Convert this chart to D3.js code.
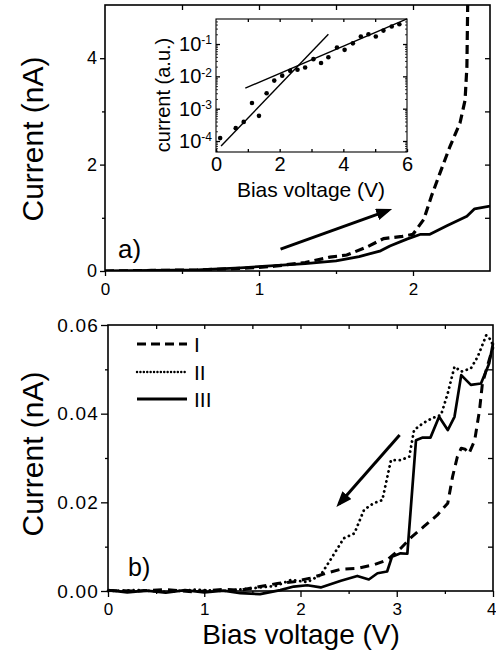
<!DOCTYPE html>
<html>
<head>
<meta charset="utf-8">
<script src="https://cdn.jsdelivr.net/npm/d3@7"></script>
<style>
  body { margin: 0; background: #fff; }
  svg { display: block; font-family: "Liberation Sans", Arial, sans-serif; }
</style>
</head>
<body>
<div id="chart"></div>
<script>
// ---- panel a: forward sweep (nA) ----
const aDashV = [0, 0.3, 0.6, 0.9, 1.1, 1.3, 1.46, 1.57, 1.7, 1.81, 1.93, 2.0, 2.07, 2.12, 2.175, 2.24, 2.305, 2.338, 2.35, 2.356];
const aDashI = [0, 0.01, 0.02, 0.05, 0.09, 0.16, 0.26, 0.30, 0.45, 0.61, 0.65, 0.69, 0.97, 1.41, 1.84, 2.34, 2.78, 3.21, 3.84, 5.2];
const aSolidV = [0, 0.3, 0.6, 0.88, 1.1, 1.3, 1.5, 1.65, 1.79, 1.85, 1.96, 2.05, 2.11, 2.22, 2.35, 2.40, 2.5];
const aSolidI = [0, 0.01, 0.02, 0.06, 0.1, 0.14, 0.19, 0.27, 0.38, 0.47, 0.6, 0.69, 0.69, 0.85, 1.03, 1.17, 1.22];
const aArrow = [[1.14, 0.41], [1.84, 1.14]];

// ---- inset: log current vs bias ----
const insetV = [0.13, 0.62, 0.87, 1.13, 1.35, 1.59, 1.83, 2.08, 2.33, 2.56, 2.80, 3.06, 3.30, 3.53, 3.80, 4.04, 4.30, 4.55, 4.79, 5.02, 5.26, 5.52, 5.76];
const insetI = [1.23e-4, 2.5e-4, 3.9e-4, 1.5e-3, 6.0e-4, 3.0e-3, 7.4e-3, 1.05e-2, 1.48e-2, 1.6e-2, 1.87e-2, 3.4e-2, 2.6e-2, 3.9e-2, 7.8e-2, 6.6e-2, 1.05e-1, 1.7e-1, 2.0e-1, 1.7e-1, 2.6e-1, 3.5e-1, 4.1e-1];
const fitSteep = [[0.16, 7e-5], [3.53, 0.2]];
const fitShallow = [[0.92, 4.3e-3], [6.0, 0.6]];

// ---- panel b: backward sweeps I, II, III (nA) ----
const bIV = [0, 0.3, 0.6, 0.9, 1.2, 1.375, 1.58, 1.76, 1.93, 2.10, 2.28, 2.42, 2.59, 2.76, 2.90, 3.04, 3.15, 3.28, 3.42, 3.53, 3.58, 3.63, 3.67, 3.71, 3.75, 3.81, 3.86, 3.89, 3.94, 4.0];
const bII = [0.0001, 0, 0.0003, -0.0002, 0.0004, 0.0002, 0.001, 0.0017, 0.0021, 0.0029, 0.0041, 0.0049, 0.0051, 0.0059, 0.007, 0.0096, 0.0121, 0.0145, 0.0171, 0.0198, 0.0258, 0.0303, 0.0322, 0.032, 0.031, 0.034, 0.0408, 0.0468, 0.0506, 0.055];
const bIIV = [0, 0.3, 0.6, 0.9, 1.2, 1.5, 1.75, 1.90, 2.07, 2.21, 2.31, 2.45, 2.56, 2.66, 2.76, 2.85, 2.94, 3.04, 3.13, 3.18, 3.27, 3.37, 3.46, 3.53, 3.60, 3.67, 3.77, 3.84, 3.93, 3.98, 4.0];
const bIII = [0, 0.0002, -0.0002, 0.0003, 0, 0.0006, 0.0012, 0.0025, 0.002, 0.0036, 0.007, 0.0119, 0.013, 0.0183, 0.0198, 0.0205, 0.0295, 0.0295, 0.0303, 0.0363, 0.0378, 0.039, 0.0397, 0.0446, 0.0506, 0.0495, 0.0502, 0.0528, 0.0577, 0.0566, 0.0552];
const bIIIV = [0, 0.2, 0.4, 0.6, 0.8, 1.0, 1.2, 1.375, 1.58, 1.79, 1.93, 2.07, 2.21, 2.42, 2.59, 2.71, 2.80, 2.90, 2.95, 3.04, 3.11, 3.20, 3.27, 3.35, 3.44, 3.53, 3.60, 3.67, 3.77, 3.875, 3.96, 4.0];
const bIIII = [0.0002, -0.0003, 0.0001, -0.0004, 0.0002, -0.0003, 0.0001, -0.0005, -0.0007, 0.0002, 0.001, 0.0013, 0.0008, 0.0023, 0.0034, 0.0026, 0.004, 0.0044, 0.0077, 0.0085, 0.0084, 0.034, 0.0346, 0.0346, 0.0393, 0.0363, 0.0393, 0.0487, 0.0465, 0.0468, 0.0513, 0.0559];
const bArrow = [[3.03, 0.0352], [2.40, 0.0196]];
const legendNames = ["I", "II", "III"];

const zip = (xs, ys) => xs.map((v, i) => [v, ys[i]]);
const FONT = '"Liberation Sans", Arial, sans-serif';

const width = 496, height = 654;
const svg = d3.select("#chart").append("svg")
  .attr("width", width).attr("height", height)
  .attr("viewBox", `0 0 ${width} ${height}`);

const defs = svg.append("defs");
defs.append("marker")
  .attr("id", "head")
  .attr("markerUnits", "userSpaceOnUse")
  .attr("viewBox", "0 0 16 12")
  .attr("refX", 12).attr("refY", 6)
  .attr("markerWidth", 16).attr("markerHeight", 12)
  .attr("orient", "auto")
  .append("path").attr("d", "M0,0 L16,6 L0,12 Z").attr("fill", "#000");

function styleAxis(g, fs) {
  g.attr("font-family", FONT).attr("font-size", fs);
  g.select(".domain").remove();
  g.selectAll("line").attr("stroke", "#000").attr("stroke-width", 1.3);
  g.selectAll("text").attr("fill", "#000");
}

// ================= panel a =================
const xA = d3.scaleLinear().domain([0, 2.5]).range([105, 490]);
const yA = d3.scaleLinear().domain([0, 5]).range([271, 5]);

defs.append("clipPath").attr("id", "clipA").append("rect")
  .attr("x", 105).attr("y", 5).attr("width", 385).attr("height", 266);

const gA = svg.append("g");

gA.append("g").attr("transform", `translate(0,271)`)
  .call(d3.axisBottom(xA).tickValues([0, 1, 2]).tickFormat(d3.format("d")).tickSize(5).tickPadding(7))
  .call(g => styleAxis(g, 17));
gA.append("g").attr("transform", `translate(0,271)`)
  .call(d3.axisBottom(xA).tickValues([0.5, 1.5]).tickFormat("").tickSize(3))
  .call(g => styleAxis(g, 17));
gA.append("g").attr("transform", `translate(0,5)`)
  .call(d3.axisTop(xA).tickValues([0.5, 1, 1.5, 2]).tickFormat("").tickSize(-5))
  .call(g => styleAxis(g, 17));
gA.append("g").attr("transform", `translate(105,0)`)
  .call(d3.axisLeft(yA).tickValues([0, 2, 4]).tickFormat(d3.format("d")).tickSize(5).tickPadding(3))
  .call(g => styleAxis(g, 18));
gA.append("g").attr("transform", `translate(105,0)`)
  .call(d3.axisLeft(yA).tickValues([1, 3]).tickFormat("").tickSize(3))
  .call(g => styleAxis(g, 18));
gA.append("g").attr("transform", `translate(490,0)`)
  .call(d3.axisRight(yA).tickValues([1, 2, 3, 4]).tickFormat("").tickSize(-5))
  .call(g => styleAxis(g, 18));

gA.append("rect").attr("x", 105).attr("y", 5).attr("width", 385).attr("height", 266)
  .attr("fill", "none").attr("stroke", "#000").attr("stroke-width", 1.6);

const lineA = d3.line().x(d => xA(d[0])).y(d => yA(d[1]));
const curvesA = gA.append("g").attr("clip-path", "url(#clipA)");
curvesA.append("path").datum(zip(aSolidV, aSolidI))
  .attr("fill", "none").attr("stroke", "#000").attr("stroke-width", 2.8)
  .attr("stroke-linejoin", "round").attr("d", lineA);
curvesA.append("path").datum(zip(aDashV, aDashI))
  .attr("fill", "none").attr("stroke", "#000").attr("stroke-width", 3.2)
  .attr("stroke-dasharray", "9,5").attr("d", lineA);

gA.append("path").datum(aArrow)
  .attr("fill", "none").attr("stroke", "#000").attr("stroke-width", 3)
  .attr("marker-end", "url(#head)").attr("d", lineA);

gA.append("text").attr("x", 118).attr("y", 258)
  .attr("font-size", 26).attr("font-family", FONT).text("a)");

svg.append("text")
  .attr("transform", "translate(43,139) rotate(-90)")
  .attr("text-anchor", "middle").attr("font-size", 30).attr("font-family", FONT)
  .text("Current (nA)");

// ================= inset =================
const xI = d3.scaleLinear().domain([0, 6]).range([216, 407]);
const yI = d3.scaleLog().domain([Math.pow(10, -4.34), Math.pow(10, -0.226)]).range([152, 19]);

const gI = svg.append("g");
gI.append("rect").attr("x", 216).attr("y", 19).attr("width", 191).attr("height", 133)
  .attr("fill", "#fff").attr("stroke", "none");

gI.append("g").attr("transform", `translate(0,152)`)
  .call(d3.axisBottom(xI).tickValues([0, 2, 4, 6]).tickFormat(d3.format("d")).tickSize(-3).tickPadding(5))
  .call(g => styleAxis(g, 20));
gI.append("g").attr("transform", `translate(0,152)`)
  .call(d3.axisBottom(xI).tickValues([1, 3, 5]).tickFormat("").tickSize(-3))
  .call(g => styleAxis(g, 20));
gI.append("g").attr("transform", `translate(0,19)`)
  .call(d3.axisTop(xI).tickValues([1, 2, 3, 4, 5]).tickFormat("").tickSize(-3))
  .call(g => styleAxis(g, 20));

const decades = [1e-4, 1e-3, 1e-2, 1e-1];
const minorLog = [];
[1e-5, 1e-4, 1e-3, 1e-2, 1e-1].forEach(d => {
  for (let k = 2; k <= 9; k++) {
    const v = d * k;
    if (v > yI.domain()[0] && v < yI.domain()[1]) minorLog.push(v);
  }
});

const leftI = gI.append("g").attr("transform", `translate(216,0)`)
  .call(d3.axisLeft(yI).tickValues(decades).tickSize(-4).tickPadding(4))
  .call(g => styleAxis(g, 20));
leftI.selectAll(".tick text").each(function(d) {
  const t = d3.select(this);
  t.text("10");
  t.append("tspan").attr("dy", "-0.55em").attr("font-size", 12)
    .text("-" + Math.round(-Math.log10(d)));
});
gI.append("g").attr("transform", `translate(216,0)`)
  .call(d3.axisLeft(yI).tickValues(minorLog).tickFormat("").tickSize(-2))
  .call(g => styleAxis(g, 20))
  .call(g => g.selectAll("line").attr("stroke-width", 0.8));
gI.append("g").attr("transform", `translate(407,0)`)
  .call(d3.axisRight(yI).tickValues(decades).tickFormat("").tickSize(-4))
  .call(g => styleAxis(g, 20));
gI.append("g").attr("transform", `translate(407,0)`)
  .call(d3.axisRight(yI).tickValues(minorLog).tickFormat("").tickSize(-2))
  .call(g => styleAxis(g, 20))
  .call(g => g.selectAll("line").attr("stroke-width", 0.8));

gI.append("rect").attr("x", 216).attr("y", 19).attr("width", 191).attr("height", 133)
  .attr("fill", "none").attr("stroke", "#000").attr("stroke-width", 1.1);

const lineI = d3.line().x(d => xI(d[0])).y(d => yI(d[1]));
gI.append("path").datum(fitSteep)
  .attr("fill", "none").attr("stroke", "#000").attr("stroke-width", 1.4).attr("d", lineI);
gI.append("path").datum(fitShallow)
  .attr("fill", "none").attr("stroke", "#000").attr("stroke-width", 1.4).attr("d", lineI);
gI.selectAll("circle").data(zip(insetV, insetI)).join("circle")
  .attr("cx", d => xI(d[0])).attr("cy", d => yI(d[1]))
  .attr("r", 2.3).attr("fill", "#000");

gI.append("text").attr("x", 311).attr("y", 197)
  .attr("text-anchor", "middle").attr("font-size", 21).attr("font-family", FONT)
  .text("Bias voltage (V)");
gI.append("text")
  .attr("transform", "translate(170,95) rotate(-90)")
  .attr("text-anchor", "middle").attr("font-size", 20).attr("font-family", FONT)
  .text("current (a.u.)");

// ================= panel b =================
const xB = d3.scaleLinear().domain([0, 4]).range([108, 493]);
const yB = d3.scaleLinear().domain([0, 0.06]).range([591, 325]);

const gB = svg.append("g");
gB.append("g").attr("transform", `translate(0,591)`)
  .call(d3.axisBottom(xB).tickValues([0, 1, 2, 3, 4]).tickFormat(d3.format("d")).tickSize(6).tickPadding(6))
  .call(g => styleAxis(g, 17))
  .call(g => g.selectAll(".tick text").filter(d => d === 4).attr("text-anchor", "end").attr("dx", 3));
gB.append("g").attr("transform", `translate(0,591)`)
  .call(d3.axisBottom(xB).tickValues([0.5, 1.5, 2.5, 3.5]).tickFormat("").tickSize(3))
  .call(g => styleAxis(g, 17));
gB.append("g").attr("transform", `translate(0,325)`)
  .call(d3.axisTop(xB).tickValues([0.5, 1, 1.5, 2, 2.5, 3, 3.5]).tickFormat("").tickSize(-4))
  .call(g => styleAxis(g, 17));
gB.append("g").attr("transform", `translate(108,0)`)
  .call(d3.axisLeft(yB).tickValues([0, 0.02, 0.04, 0.06]).tickFormat(d3.format(".2f")).tickSize(7).tickPadding(2))
  .call(g => styleAxis(g, 19))
  .call(g => g.selectAll("text").attr("letter-spacing", 1.2));
gB.append("g").attr("transform", `translate(108,0)`)
  .call(d3.axisLeft(yB).tickValues([0.01, 0.03, 0.05]).tickFormat("").tickSize(3))
  .call(g => styleAxis(g, 19));
gB.append("g").attr("transform", `translate(493,0)`)
  .call(d3.axisRight(yB).tickValues([0.01, 0.02, 0.03, 0.04, 0.05]).tickFormat("").tickSize(-5))
  .call(g => styleAxis(g, 19));

gB.append("rect").attr("x", 108).attr("y", 325).attr("width", 385).attr("height", 266)
  .attr("fill", "none").attr("stroke", "#000").attr("stroke-width", 1.6);

const lineB = d3.line().x(d => xB(d[0])).y(d => yB(d[1]));
const styles = [
  { w: 3.0, dash: "9,6", cap: "butt" },
  { w: 2.8, dash: "0.1,5", cap: "round" },
  { w: 2.7, dash: null, cap: "butt" }
];
const seriesB = [zip(bIV, bII), zip(bIIV, bIII), zip(bIIIV, bIIII)];
seriesB.forEach((s, i) => {
  gB.append("path").datum(s)
    .attr("fill", "none").attr("stroke", "#000")
    .attr("stroke-width", styles[i].w)
    .attr("stroke-dasharray", styles[i].dash)
    .attr("stroke-linecap", styles[i].cap)
    .attr("stroke-linejoin", "round")
    .attr("d", lineB);
});

gB.append("path").datum(bArrow)
  .attr("fill", "none").attr("stroke", "#000").attr("stroke-width", 3)
  .attr("marker-end", "url(#head)").attr("d", lineB);

// legend
const legStyles = [
  { w: 3.0, dash: "9,5", cap: "butt" },
  { w: 2.4, dash: "0.1,3.3", cap: "round" },
  { w: 3.2, dash: null, cap: "butt" }
];
const legY = [344, 372, 399];
legendNames.forEach((name, i) => {
  gB.append("line").attr("x1", 137).attr("x2", 187).attr("y1", legY[i]).attr("y2", legY[i])
    .attr("stroke", "#000").attr("stroke-width", legStyles[i].w)
    .attr("stroke-dasharray", legStyles[i].dash)
    .attr("stroke-linecap", legStyles[i].cap);
  gB.append("text").attr("x", 194).attr("y", legY[i] + 8)
    .attr("font-size", 21).attr("font-family", FONT).text(name);
});

gB.append("text").attr("x", 128).attr("y", 576)
  .attr("font-size", 25).attr("font-family", FONT).text("b)");

svg.append("text").attr("x", 301).attr("y", 644)
  .attr("text-anchor", "middle").attr("font-size", 28).attr("font-family", FONT)
  .text("Bias voltage (V)");
svg.append("text")
  .attr("transform", "translate(43,454) rotate(-90)")
  .attr("text-anchor", "middle").attr("font-size", 30).attr("font-family", FONT)
  .text("Current (nA)");
</script>
</body>
</html>
